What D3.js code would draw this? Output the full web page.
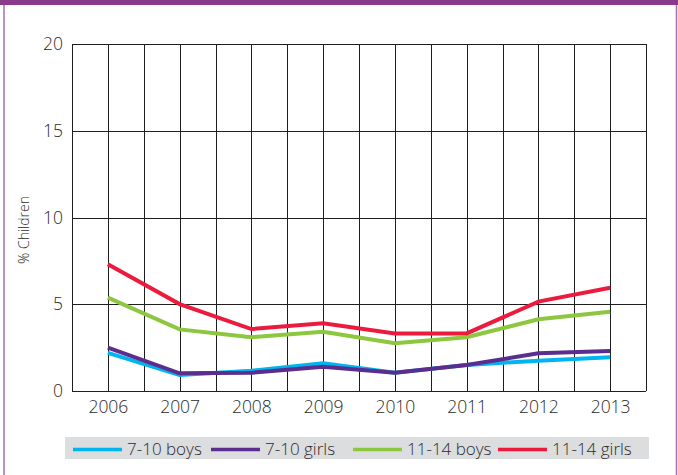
<!DOCTYPE html>
<html>
<head>
<meta charset="utf-8">
<script src="https://cdn.jsdelivr.net/npm/d3@7/dist/d3.min.js"></script>
<style>
  html, body { margin: 0; padding: 0; background: #fff; }
  svg { display: block; }
  text { font-family: "Open Sans", "Noto Sans", sans-serif; fill: #2b2b2b; font-weight: 300; }
</style>
</head>
<body>
<svg id="chart" width="678" height="475"></svg>
<script>
// ---- data ----
const years = [2006, 2007, 2008, 2009, 2010, 2011, 2012, 2013];
const boys710  = [2.2, 0.92, 1.17, 1.6, 1.05, 1.5, 1.75, 1.95];
const girls710 = [2.5, 1.02, 1.05, 1.4, 1.05, 1.5, 2.17, 2.3];
const boys1114 = [5.38, 3.55, 3.1, 3.42, 2.75, 3.1, 4.13, 4.57];
const girls1114 = [7.3, 5.01, 3.57, 3.9, 3.32, 3.32, 5.15, 5.95];
const seriesNames = ["7-10 boys", "7-10 girls", "11-14 boys", "11-14 girls"];
const seriesColors = ["#00b4ee", "#5b2d8e", "#8dc63f", "#ec1b3d"];
const yTicks = [0, 5, 10, 15, 20];
const yLabel = "% Children";

const seriesValues = [boys710, girls710, boys1114, girls1114];

const svg = d3.select("#chart");

// frame
svg.append("rect").attr("x", 0).attr("y", 0).attr("width", 678).attr("height", 5).attr("fill", "#893a8c");
svg.append("line").attr("x1", 4).attr("x2", 4).attr("y1", 5).attr("y2", 475).attr("stroke", "#a66bb0").attr("stroke-width", 1.5);
svg.append("line").attr("x1", 676.5).attr("x2", 676.5).attr("y1", 5).attr("y2", 475).attr("stroke", "#a66bb0").attr("stroke-width", 1.5);

const x = d3.scaleLinear().domain([2005.5, 2013.5]).range([72, 646]);
const y = d3.scaleLinear().domain([0, 20]).range([391, 44]);

// grid: verticals every half year
const g = svg.append("g");
const halfYears = d3.range(2005.5, 2013.5 + 0.01, 0.5);
g.selectAll("line.v").data(halfYears).enter().append("line")
  .attr("x1", d => Math.round(x(d)) + 0.5).attr("x2", d => Math.round(x(d)) + 0.5)
  .attr("y1", y(20)).attr("y2", y(0))
  .attr("stroke", "#1e1e1e").attr("stroke-width", 1);
g.selectAll("line.h").data(yTicks).enter().append("line")
  .attr("x1", x(2005.5)).attr("x2", x(2013.5))
  .attr("y1", d => Math.round(y(d)) + 0.5).attr("y2", d => Math.round(y(d)) + 0.5)
  .attr("stroke", "#1e1e1e").attr("stroke-width", 1);

// axes (labels only)
const yAxis = d3.axisLeft(y).tickValues(yTicks).tickSize(0).tickPadding(9);
const ya = svg.append("g").attr("transform", `translate(${x(2005.5)},0)`).call(yAxis);
ya.select(".domain").remove();
ya.selectAll("text").attr("font-size", 17.5).attr("font-family", '"Open Sans", sans-serif').attr("font-weight", 300).attr("fill", "#2b2b2b");

const xAxis = d3.axisBottom(x).tickValues(years).tickFormat(d3.format("d")).tickSize(0).tickPadding(10);
const xa = svg.append("g").attr("transform", `translate(0,${y(0)})`).call(xAxis);
xa.select(".domain").remove();
xa.selectAll("text").attr("font-size", 17.5).attr("font-family", '"Open Sans", sans-serif').attr("font-weight", 300).attr("fill", "#2b2b2b");

svg.append("text")
  .attr("transform", "translate(29,230) rotate(-90)")
  .attr("text-anchor", "middle")
  .attr("font-size", 14)
  .text(yLabel);

// lines
const line = d3.line().x((d, i) => x(years[i])).y(d => y(d));
seriesValues.forEach((vals, k) => {
  svg.append("path").datum(vals)
    .attr("d", line)
    .attr("fill", "none")
    .attr("stroke", seriesColors[k])
    .attr("stroke-width", 4)
    .attr("stroke-linejoin", "miter");
});

// legend
const legendStarts = [73, 211, 353, 498];
svg.append("rect").attr("x", 65).attr("y", 437).attr("width", 584).attr("height", 22).attr("fill", "#dcdddf");
const lg = svg.append("g");
seriesNames.forEach((name, k) => {
  lg.append("line").attr("x1", legendStarts[k]).attr("x2", legendStarts[k] + 49)
    .attr("y1", 449.5).attr("y2", 449.5)
    .attr("stroke", seriesColors[k]).attr("stroke-width", 3.5);
  lg.append("text").attr("x", legendStarts[k] + 54).attr("y", 455)
    .attr("font-size", 17).text(name);
});
</script>
</body>
</html>
